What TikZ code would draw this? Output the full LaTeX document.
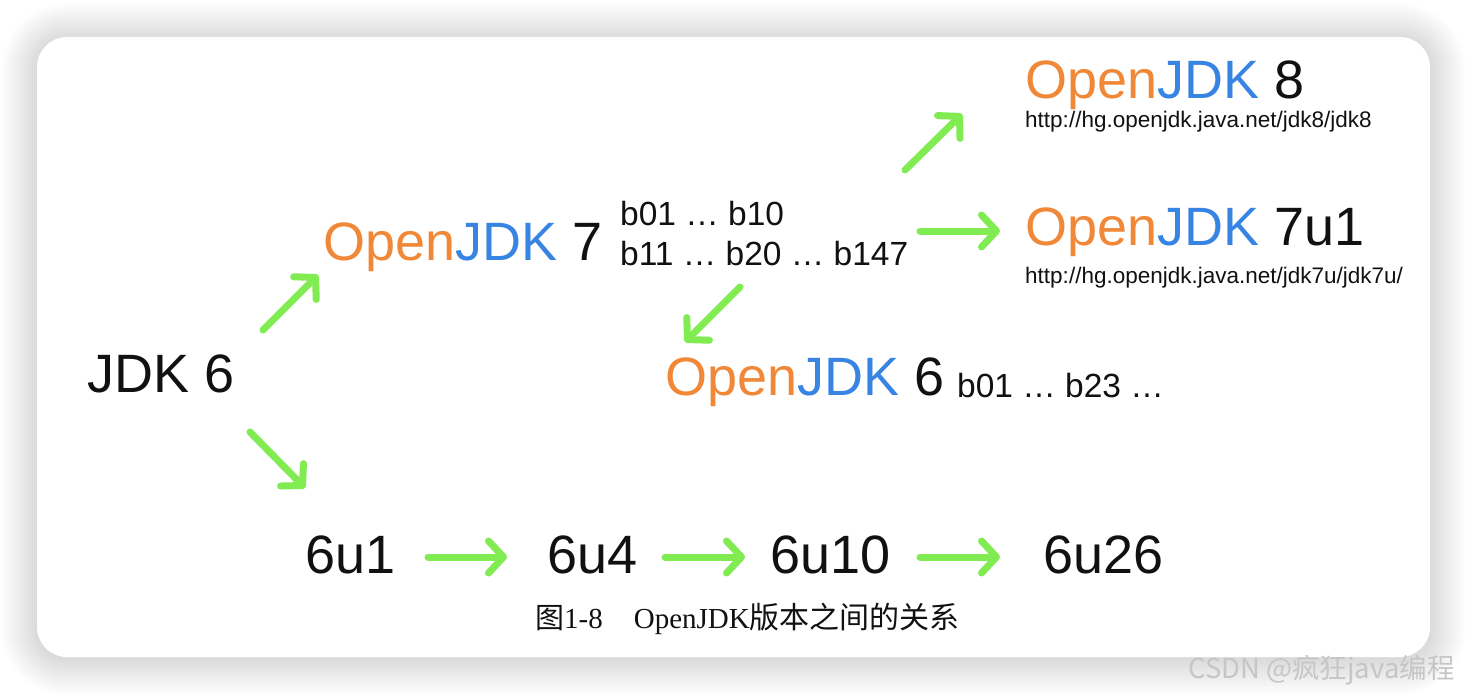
\documentclass[tikz,border=0pt]{standalone}
\usepackage{fontspec}
\setmainfont{Liberation Sans}
\newfontfamily\capfont{Liberation Serif}
\newfontfamily\cjk{Noto Sans CJK SC}
\usetikzlibrary{arrows.meta}

\definecolor{jdkorange}{RGB}{240,136,56}
\definecolor{jdkblue}{RGB}{56,132,226}
\definecolor{arrgreen}{RGB}{128,236,82}
\definecolor{txtblack}{RGB}{17,17,17}
\newcommand{\ojdk}[1]{\textcolor{jdkorange}{Open}\textcolor{jdkblue}{JDK} #1}

\tikzset{
  lbl/.style={inner sep=0pt, anchor=base west, text=txtblack},
  big/.style={lbl, font=\fontsize{54}{60}\selectfont},
  small/.style={lbl, font=\fontsize{33.5}{36}\selectfont},
  url/.style={lbl, font=\fontsize{22.5}{26}\selectfont},
  grarr/.style={draw=arrgreen, line width=7pt, line cap=round, line join=round,
    -{Straight Barb[length=15pt,width=32pt,round]}},
}

\begin{document}
\begin{tikzpicture}[x=1pt, y=-1pt]
    \useasboundingbox (0,0) rectangle (1466,694);
    % Фон и карточка
    \fill[white] (0,0) rectangle (1466,694);
    \foreach \i [evaluate=\i as \r using 30+\i] in {1,...,36}
        \fill[black, opacity=0.0045, rounded corners=\r pt] (37-\i,39-\i) rectangle (1430+\i,659+\i);
    \fill[white, rounded corners=30pt] (37,37) rectangle (1430,657);

    % Версии
    \node[big] (jdk6) at (87,392) {JDK 6};
    \node[big] (ojdk7) at (323,260) {\ojdk{7}};
    \node[small] (b7a) at (620,225) {b01 … b10};
    \node[small] (b7b) at (620,265) {b11 … b20 … b147};
    \node[big] (ojdk8) at (1025,98) {\ojdk{8}};
    \node[url] (url8) at (1025,127) {http://hg.openjdk.java.net/jdk8/jdk8};
    \node[big] (ojdk7u) at (1025,245) {\ojdk{7u1}};
    \node[url] (url7u) at (1025,283) {http://hg.openjdk.java.net/jdk7u/jdk7u/};
    \node[big] (ojdk6) at (665,395) {\ojdk{6}};
    \node[small] (b6) at (957,397) {b01 … b23 …};

    % Ветка обновлений 6
    \node[big] (u1) at (305,573) {6u1};
    \node[big] (u4) at (547,573) {6u4};
    \node[big] (u10) at (770,573) {6u10};
    \node[big] (u26) at (1043,573) {6u26};

    % Стрелки
    \draw[grarr] ([shift={(176,-62)}]jdk6.base west) -- ([shift={(-5,15)}]ojdk7.base west);
    \draw[grarr] ([shift={(163,40)}]jdk6.base west) -- ([shift={(0,-85)}]u1.base west);
    \draw[grarr] ([shift={(120,22)}]b7b.base west) -- ([shift={(20,-53)}]ojdk6.base west);
    \draw[grarr] ([shift={(285,-55)}]b7a.base west) -- ([shift={(-63,16)}]ojdk8.base west);
    \draw[grarr] ([shift={(300,-34)}]b7b.base west) -- ([shift={(-25,-14)}]ojdk7u.base west);
    \draw[grarr] ([shift={(123,-16)}]u1.base west) -- ([shift={(-40,-16)}]u4.base west);
    \draw[grarr] ([shift={(118,-16)}]u4.base west) -- ([shift={(-25,-16)}]u10.base west);
    \draw[grarr] ([shift={(150,-16)}]u10.base west) -- ([shift={(-43,-16)}]u26.base west);

    % Подпись
    \node[lbl, font=\fontsize{29}{32}\selectfont] (cap) at (535,628)
        {{\cjk 图}{\capfont 1-8}\hspace{31pt}{\capfont OpenJDK}{\cjk\fontsize{30}{32}\selectfont 版本之间的关系}};
    \node[lbl, text=gray!45, font=\cjk\fontsize{27.5}{30}\selectfont] (mark) at (1188,678)
        {CSDN @疯狂java编程};
\end{tikzpicture}
\end{document}
